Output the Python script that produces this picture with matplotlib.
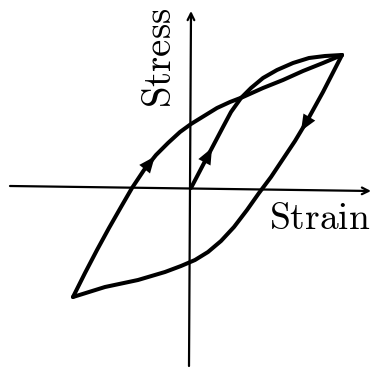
import matplotlib
matplotlib.use("Agg")
import matplotlib.pyplot as plt
import numpy as np

plt.rcParams['mathtext.fontset'] = 'cm'

# (origin of the axes = 0,0)
# upper branch: bottom-left corner up to the peak
up_x = [-118, -106, -94, -82, -70, -59, -47, -35, -23, -11, 0, 13, 26, 39, 52,
        72, 92, 112, 132, 151]
up_y = [-109, -85, -62, -40, -19, 0, 18, 33, 45, 56, 64, 72, 80, 86, 91,
        100, 108, 117, 125, 133]

# initial loading from the origin
virgin_x = [0, 12, 22, 32, 40, 50, 60, 72, 86, 102, 118, 134, 151]
virgin_y = [0, 23, 42, 61, 76, 90, 100, 110, 118, 125, 130, 132, 133]

# unloading: peak down to bottom-left corner
down_x = [151, 132, 116, 104, 92, 80, 68, 56, 43, 30, 17, 4, -10, -26, -53, -86, -118]
down_y = [133, 96, 67, 47, 29, 11, -5, -22, -39, -53, -64, -72, -78, -84, -92, -99, -109]

# arrow marks on the curves: (curve, segment index, position along segment)
arrow_marks = [("up", 6, 0.9), ("virgin", 1, 0.9), ("down", 2, 0.5)]

curves = {"up": (up_x, up_y), "virgin": (virgin_x, virgin_y), "down": (down_x, down_y)}

fig = plt.figure(figsize=(3.71, 3.71), dpi=100)
ax = fig.add_axes([0, 0, 1, 1])
ax.set_xlim(-191, 180)
ax.set_ylim(-183, 188)
ax.axis('off')

# axes lines with arrows
ax.annotate('', xy=(180, -3), xytext=(-181, 2),
            arrowprops=dict(arrowstyle='->', lw=1.6, color='k', mutation_scale=12,
                            shrinkA=0, shrinkB=0))
ax.annotate('', xy=(0, 177), xytext=(-2, -178),
            arrowprops=dict(arrowstyle='->', lw=1.6, color='k', mutation_scale=12,
                            shrinkA=0, shrinkB=0))

for name, (cx, cy) in curves.items():
    ax.plot(cx, cy, color='k', lw=2.9, solid_capstyle='round', solid_joinstyle='round')

for name, i, t in arrow_marks:
    cx, cy = curves[name]
    x0, y0, x1, y1 = cx[i], cy[i], cx[i + 1], cy[i + 1]
    tx, ty = x0 + t * (x1 - x0), y0 + t * (y1 - y0)
    d = np.hypot(x1 - x0, y1 - y0)
    ux, uy = (x1 - x0) / d, (y1 - y0) / d
    ax.annotate('', xy=(tx, ty), xytext=(tx - 8 * ux, ty - 8 * uy),
                arrowprops=dict(arrowstyle='-|>,head_length=0.9,head_width=0.38',
                                lw=0, color='k', mutation_scale=13,
                                shrinkA=0, shrinkB=0))

ax.text(-31, 130, r'$\mathrm{Stress}$', rotation=90, fontsize=28,
        ha='center', va='center')
ax.text(129, -31, r'$\mathrm{Strain}$', fontsize=27, ha='center', va='center')

fig.savefig('out.png', dpi=100)
